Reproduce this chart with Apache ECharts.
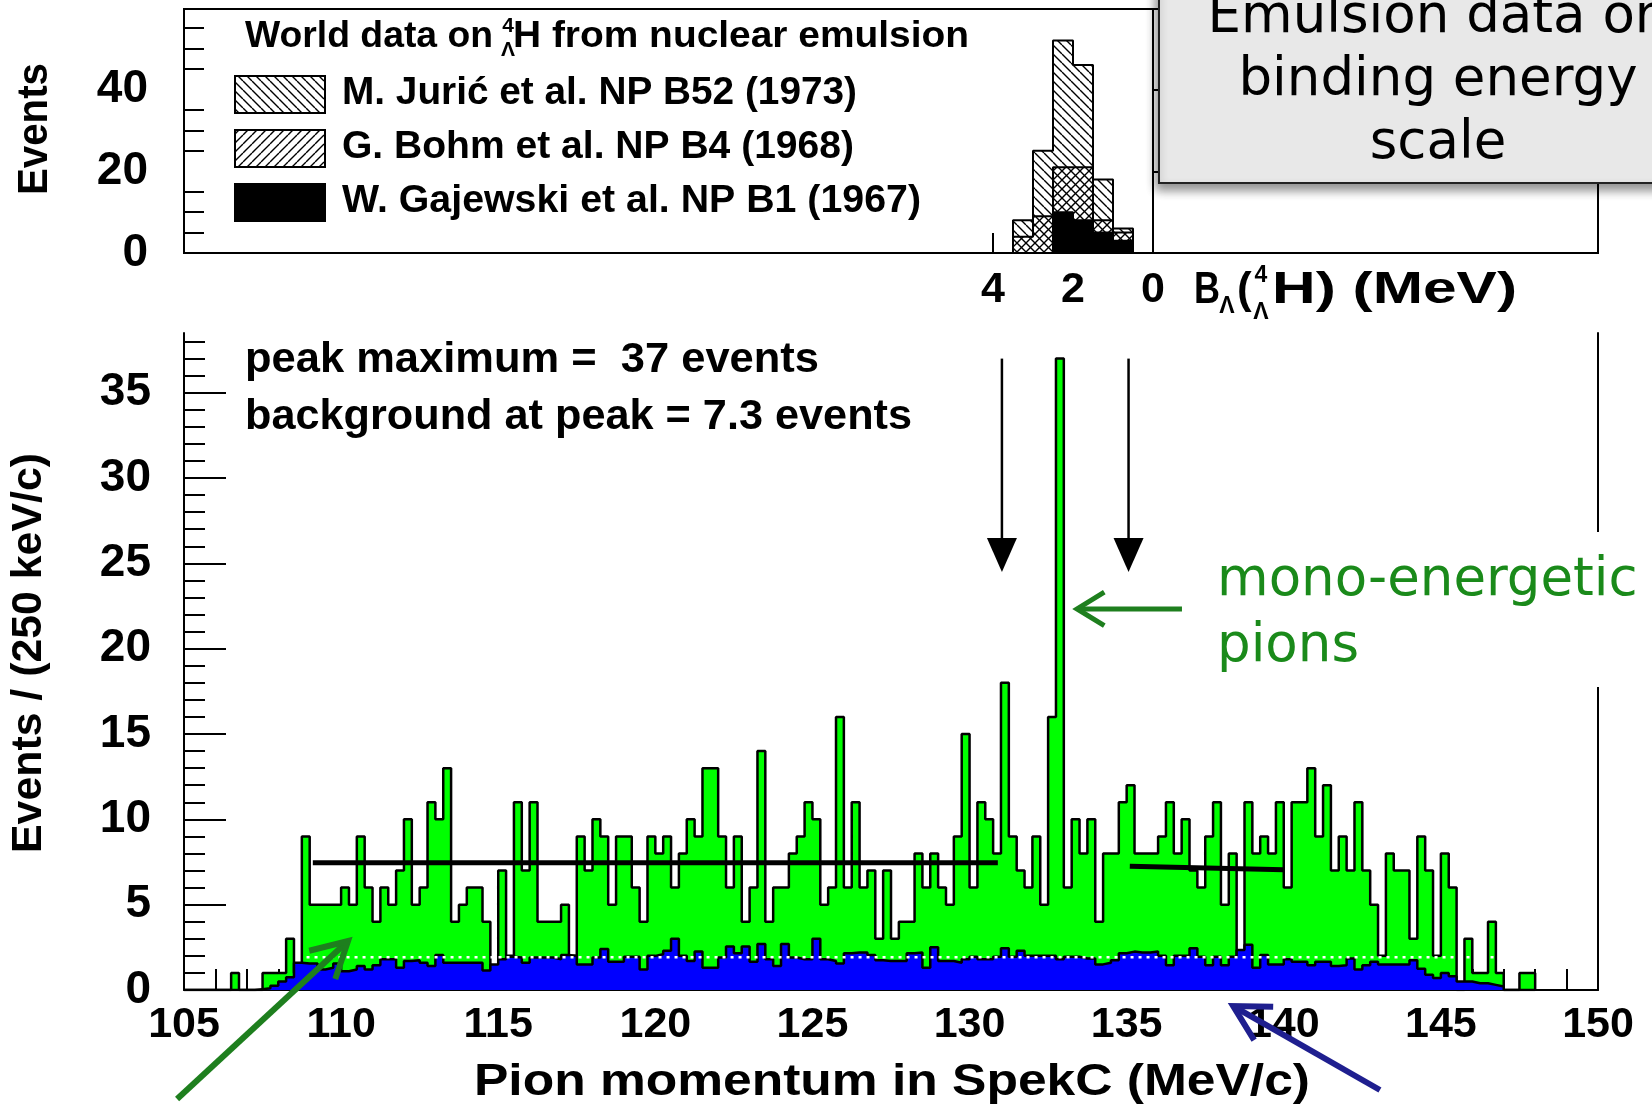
<!DOCTYPE html>
<html>
<head>
<meta charset="utf-8">
<script src="https://cdn.jsdelivr.net/npm/echarts@6.0.0/dist/echarts.min.js"></script>
<style>
html,body{margin:0;padding:0;background:#fff;}
#chart{width:1652px;height:1117px;}
</style>
</head>
<body>
<div id="chart"></div>
<script>
// ---------------- data ----------------
// main histogram: pion momentum bins of 0.25 MeV/c starting at 105.00
const binStart = 105.0;
const binWidth = 0.25;
const dataCounts = [
  0,0,0,0,0,0,1,0,0,0,
  1,1,1,3,1,9,5,5,5,5,
  6,5,9,6,4,6,5,7,10,5,
  6,11,10,13,4,5,6,6,4,1,
  7,2,11,7,11,4,4,4,5,2,
  9,7,10,9,5,9,9,6,4,9,
  8,9,6,8,10,9,13,13,9,6,
  9,4,6,14,4,6,6,8,9,11,
  10,5,6,16,6,11,6,7,3,7,
  3,4,4,8,6,8,6,5,9,15,
  6,11,10,8,18,9,7,6,9,5,
  16,37,6,10,8,10,4,8,8,11,
  12,8,8,8,9,11,8,10,7,6,
  9,11,5,8,2,11,8,9,8,11,
  6,11,11,13,9,12,7,9,7,11,
  7,5,2,8,7,7,3,9,7,2,
  8,6,0,3,1,1,4,1,0,0,
  1,1
];
const backgroundCounts = [
  0,0,0,0,0,0,0,0,0,0.05,
  0.1,0.25,0.5,0.75,1.6,1.55,1.55,1.2,1.3,1.55,
  1.1,1.2,1.4,1.2,1.45,1.8,1.8,1.3,1.7,1.75,
  1.6,1.4,2.05,1.6,1.6,1.6,1.6,1.6,1.15,1.5,
  1.8,1.95,1.9,1.6,1.9,1.9,1.9,1.8,2.05,2.0,
  1.5,1.5,1.9,2.4,1.65,1.65,1.95,1.95,1.2,2.0,
  2.1,2.3,3.0,2.0,1.7,2.25,1.3,1.3,1.9,2.55,
  2.15,2.55,1.65,2.7,1.8,1.4,2.7,1.9,1.8,1.8,
  3.0,1.8,1.7,1.55,2.15,2.2,2.2,2.05,1.75,1.7,
  1.7,1.7,2.15,2.2,1.3,2.5,1.7,1.7,1.6,1.8,
  1.95,1.8,1.8,1.95,2.45,1.95,2.3,2.0,2.0,2.0,
  2.0,1.8,1.95,1.95,1.85,1.85,1.5,1.6,1.75,2.15,
  2.25,2.2,2.2,2.25,2.0,1.45,2.0,2.0,2.45,1.95,
  1.45,1.95,1.45,1.95,2.35,2.65,1.3,2.05,1.5,1.5,
  1.8,1.65,1.65,1.45,1.65,1.65,1.4,1.45,1.85,1.2,
  1.45,1.65,1.5,1.5,1.5,1.5,1.75,1.25,0.9,0.7,
  1.0,0.8,0.5,0.5,0.4,0.4,0.3,0.2,0,0,
  0,0
];
// flat background fits (momentum range, level)
const fitLeftX = [109.1, 130.9];
const fitLeftY = [7.45, 7.45];
const fitRightX = [135.1, 140.0];
const fitRightY = [7.25, 7.05];
// dotted mean-background level
const bgLevelX = [108.9, 146.8];
const bgLevelY = [1.92, 1.92];
// axis ticks
const mainYLabels = [0, 5, 10, 15, 20, 25, 30, 35];
const topYLabels = [0, 20, 40];
const bindingLabels = [0, 2, 4];
// emulsion data: binding energy bins of 0.5 MeV starting at B = 0.5
const topBinStart = 0.5;
const topBinWidth = 0.5;
const juric    = [1, 10, 25, 31, 16, 4];
const bohm     = [2, 3, 13, 11, 9, 4];
const gajewski = [3, 5, 8, 10, 0, 0];
// annotation arrows (momentum, events)
const downArrowsX = [131.03, 135.06];
const downArrowTop = 37.0;
const downArrowTip = 24.5;

// ---------------- helpers ----------------
const ROOTF = '"Liberation Sans", Arial, sans-serif';
const PPTF = '"DejaVu Sans", Verdana, sans-serif';

function histLine(start, width, vals) {
  const pts = [[start, 0]];
  for (let i = 0; i < vals.length; i++) pts.push([start + i * width, vals[i]]);
  pts.push([start + vals.length * width, vals[vals.length - 1]]);
  pts.push([start + vals.length * width, 0]);
  return pts;
}
function hatch(dir) {
  const s = 9, c = document.createElement('canvas');
  c.width = s; c.height = s;
  const g = c.getContext('2d');
  g.strokeStyle = '#000'; g.lineWidth = 1.4;
  g.beginPath();
  for (let k = -1; k <= 1; k++) {
    if (dir === 'back') { g.moveTo(k * s, 0); g.lineTo(k * s + s, s); }
    else { g.moveTo(k * s, s); g.lineTo(k * s + s, 0); }
  }
  g.stroke();
  return { image: c, repeat: 'repeat' };
}
const backHatch = hatch('back');
const fwdHatch = hatch('fwd');

const topBG = bohm.map((v, i) => v + gajewski[i]);
const topTotal = juric.map((v, i) => v + topBG[i]);

const range = (a, b, step) => { const r = []; for (let v = a; v <= b + 1e-9; v += step) r.push(v); return r; };
const mainMinor = range(0, 38, 1).filter(v => v % 5 !== 0);
const topMinor = range(0, 55, 5).filter(v => v % 20 !== 0);

const axisLine = { show: true, lineStyle: { color: '#000', width: 2 } };
const xLabelFont = { color: '#000', fontSize: 43, fontWeight: 'bold', fontFamily: ROOTF };
const yLabelFont = { color: '#000', fontSize: 46, fontWeight: 'bold', fontFamily: ROOTF, padding: [12, 0, 0, 0] };

const chart = echarts.init(document.getElementById('chart'));

const histSeries = (name, xi, yi, data, fill, z, lw) => ({
  name, type: 'line', xAxisIndex: xi, yAxisIndex: yi, step: 'end', symbol: 'none',
  data, z, lineStyle: { color: '#000', width: lw }, areaStyle: { color: fill, opacity: 1 },
  silent: true
});
const plainLine = (name, data, color, width, type, z) => ({
  name, type: 'line', xAxisIndex: 1, yAxisIndex: 1, symbol: 'none', data, z,
  lineStyle: { color, width, type }, silent: true
});

chart.setOption({
  animation: false,
  backgroundColor: '#fff',
  grid: [
    { left: 184, right: 54, top: 9, bottom: 864, show: true, borderColor: '#000', borderWidth: 2, backgroundColor: 'transparent' },
    { left: 184, right: 54, top: 333, bottom: 127 }
  ],
  xAxis: [
    { type: 'value', gridIndex: 0, inverse: true, min: -11.125, max: 24.225,
      axisLine, splitLine: { show: false },
      axisTick: { show: true, inside: true, length: 20, customValues: bindingLabels, lineStyle: { color: '#000', width: 2 } },
      axisLabel: Object.assign({ margin: 16, customValues: bindingLabels }, xLabelFont) },
    { type: 'value', gridIndex: 1, min: 105, max: 150, interval: 5,
      axisLine, splitLine: { show: false },
      axisTick: { inside: true, length: 42, lineStyle: { color: '#000', width: 2 } },
      minorTick: { show: true, splitNumber: 5, length: 21, lineStyle: { color: '#000', width: 2 } },
      axisLabel: Object.assign({ margin: 14 }, xLabelFont) }
  ],
  yAxis: [
    { type: 'value', gridIndex: 0, min: 0, max: 59.7, axisLine, splitLine: { show: false },
      axisTick: { inside: true, length: 40, customValues: topYLabels, lineStyle: { color: '#000', width: 2 } },
      axisLabel: Object.assign({ margin: 36, customValues: topYLabels }, yLabelFont) },
    { type: 'value', gridIndex: 1, min: 0, max: 38.5, axisLine, splitLine: { show: false },
      axisTick: { inside: true, length: 42, customValues: mainYLabels, lineStyle: { color: '#000', width: 2 } },
      axisLabel: Object.assign({ margin: 33, customValues: mainYLabels }, yLabelFont) },
    { type: 'value', gridIndex: 0, min: 0, max: 59.7, position: 'left', axisLine: { show: false }, splitLine: { show: false },
      axisTick: { inside: true, length: 20, customValues: topMinor, lineStyle: { color: '#000', width: 2 } },
      axisLabel: { show: false } },
    { type: 'value', gridIndex: 1, min: 0, max: 38.5, position: 'left', axisLine: { show: false }, splitLine: { show: false },
      axisTick: { inside: true, length: 21, customValues: mainMinor, lineStyle: { color: '#000', width: 2 } },
      axisLabel: { show: false } },
    { type: 'value', gridIndex: 1, min: 0, max: 38.5, position: 'right', axisLine, splitLine: { show: false },
      axisTick: { show: false }, axisLabel: { show: false } }
  ],
  series: [
    histSeries('total', 0, 0, histLine(topBinStart, topBinWidth, topTotal), backHatch, 2, 2),
    histSeries('bohm+gajewski', 0, 0, histLine(topBinStart, topBinWidth, topBG), fwdHatch, 3, 2),
    histSeries('gajewski', 0, 0, histLine(topBinStart, topBinWidth, gajewski), '#000', 4, 2),
    histSeries('data', 1, 1, histLine(binStart, binWidth, dataCounts), '#00ff00', 2, 2.5),
    histSeries('background', 1, 1, histLine(binStart, binWidth, backgroundCounts), '#0000ff', 3, 2.5),
    plainLine('bglevel', bgLevelX.map((x, i) => [x, bgLevelY[i]]), '#ffffff', 2.5, [3, 5], 4),
    plainLine('fitL', fitLeftX.map((x, i) => [x, fitLeftY[i]]), '#000', 5, 'solid', 5),
    plainLine('fitR', fitRightX.map((x, i) => [x, fitRightY[i]]), '#000', 5, 'solid', 5)
  ]
});

// ---------------- annotations ----------------
const mctx = document.createElement('canvas').getContext('2d');
function measure(str, size, fam, weight) { mctx.font = weight + ' ' + size + 'px ' + fam; return mctx.measureText(str).width; }
function txt(str, x, y, o) {
  const size = o.size, fam = o.family || ROOTF, weight = o.weight || 'bold';
  const sx = o.width ? o.width / measure(str, size, fam, weight) : 1;
  return { type: 'text', x, y, rotation: o.rotation || 0, scaleX: sx, z: o.z || 100,
    style: { text: str, fontSize: size, fontFamily: fam, fontWeight: weight, fill: o.color || '#000',
      align: o.align || 'left', verticalAlign: o.valign || 'middle' } };
}
const P = (x, y) => chart.convertToPixel({ xAxisIndex: 1, yAxisIndex: 1 }, [x, y]);

function chevronArrow(tail, tip, color, width, armLen, halfAngle) {
  const ang = Math.atan2(tail[1] - tip[1], tail[0] - tip[0]);
  const a1 = [tip[0] + armLen * Math.cos(ang + halfAngle), tip[1] + armLen * Math.sin(ang + halfAngle)];
  const a2 = [tip[0] + armLen * Math.cos(ang - halfAngle), tip[1] + armLen * Math.sin(ang - halfAngle)];
  return [
    { type: 'line', z: 120, shape: { x1: tail[0], y1: tail[1], x2: tip[0] + Math.cos(ang) * 3, y2: tip[1] + Math.sin(ang) * 3 },
      style: { stroke: color, lineWidth: width } },
    { type: 'polyline', z: 120, shape: { points: [a1, tip, a2] },
      style: { stroke: color, lineWidth: width, fill: null, lineJoin: 'miter' } }
  ];
}

const g = [];
// top-panel legend
g.push(txt('World data on', 245, 37, { size: 36, width: 248 }));
g.push(txt('4', 508, 26, { size: 21, align: 'center' }));
g.push(txt('\u039B', 508, 50, { size: 21, align: 'center' }));
g.push(txt('H from nuclear emulsion', 513, 37, { size: 36, width: 456 }));
const legendRows = [
  { label: 'M. Juri\u0107 et al. NP B52 (1973)', y: 94, fill: backHatch, w: 515 },
  { label: 'G. Bohm et al. NP B4 (1968)', y: 148, fill: fwdHatch, w: 512 },
  { label: 'W. Gajewski et al. NP B1 (1967)', y: 202, fill: '#000', w: 579 }
];
legendRows.forEach(r => {
  g.push({ type: 'rect', z: 100, shape: { x: 235, y: r.y - 18, width: 90, height: 37 },
    style: { fill: r.fill, stroke: '#000', lineWidth: 2 } });
  g.push(txt(r.label, 342, r.y, { size: 38, width: r.w }));
});
// axis titles
g.push(txt('Events', 35, 129, { size: 42, width: 132, align: 'center', rotation: Math.PI / 2 }));
g.push(txt('Events / (250 keV/c)', 29, 653, { size: 42, width: 400, align: 'center', rotation: Math.PI / 2 }));
g.push(txt('Pion momentum in SpekC (MeV/c)', 892, 1083, { size: 45, width: 836, align: 'center' }));
// binding energy axis title
g.push(txt('B', 1194, 291, { size: 44, width: 26 }));
g.push(txt('\u039B', 1227, 307, { size: 23, align: 'center' }));
g.push(txt('(', 1237, 291, { size: 44 }));
g.push(txt('4', 1261, 276, { size: 23, align: 'center' }));
g.push(txt('\u039B', 1261, 313, { size: 23, align: 'center' }));
g.push(txt('H) (MeV)', 1272, 291, { size: 44, width: 245 }));
// statistics text
g.push(txt('peak maximum =  37 events', 245, 360, { size: 42, width: 574 }));
g.push(txt('background at peak = 7.3 events', 245, 417, { size: 42, width: 667 }));
// down arrows
downArrowsX.forEach(x => {
  const t = P(x, downArrowTop), tip = P(x, downArrowTip);
  g.push({ type: 'line', z: 110, shape: { x1: t[0], y1: t[1], x2: tip[0], y2: tip[1] - 20 }, style: { stroke: '#000', lineWidth: 2.5 } });
  g.push({ type: 'polygon', z: 110, shape: { points: [[tip[0] - 15, tip[1] - 34], [tip[0] + 15, tip[1] - 34], [tip[0], tip[1]]] },
    style: { fill: '#000' } });
});
// mono-energetic annotation
g.push({ type: 'rect', z: 90, shape: { x: 1206, y: 532, width: 460, height: 155 }, style: { fill: '#fff' } });
g.push(txt('mono-energetic', 1217, 581, { size: 53, family: PPTF, weight: 'normal', color: '#1a8a1a' }));
g.push(txt('pions', 1217, 647, { size: 53, family: PPTF, weight: 'normal', color: '#1a8a1a' }));
chevronArrow(P(136.76, 22.33), P(133.42, 22.33), '#1e7f1e', 5, 32, 0.55).forEach(e => g.push(e));
chevronArrow(P(104.78, -6.39), P(110.22, 2.87), '#1e7f1e', 6, 40, 0.5).forEach(e => g.push(e));
chevronArrow(P(143.06, -5.86), P(138.39, -0.94), '#1f1f8f', 6, 40, 0.5).forEach(e => g.push(e));
// emulsion text box
g.push({ type: 'rect', z: 130, shape: { x: 1159, y: -20, width: 620, height: 203 },
  style: { fill: '#e8e8e8', stroke: '#222', lineWidth: 2, shadowBlur: 10, shadowOffsetX: -2, shadowOffsetY: 6, shadowColor: 'rgba(0,0,0,0.45)' } });
['Emulsion data on', 'binding energy', 'scale'].forEach((s, i) => {
  g.push(txt(s, 1438, 18 + i * 63, { size: 53, family: PPTF, weight: 'normal', align: 'center', z: 131 }));
});

chart.setOption({ graphic: g });
</script>
</body>
</html>
